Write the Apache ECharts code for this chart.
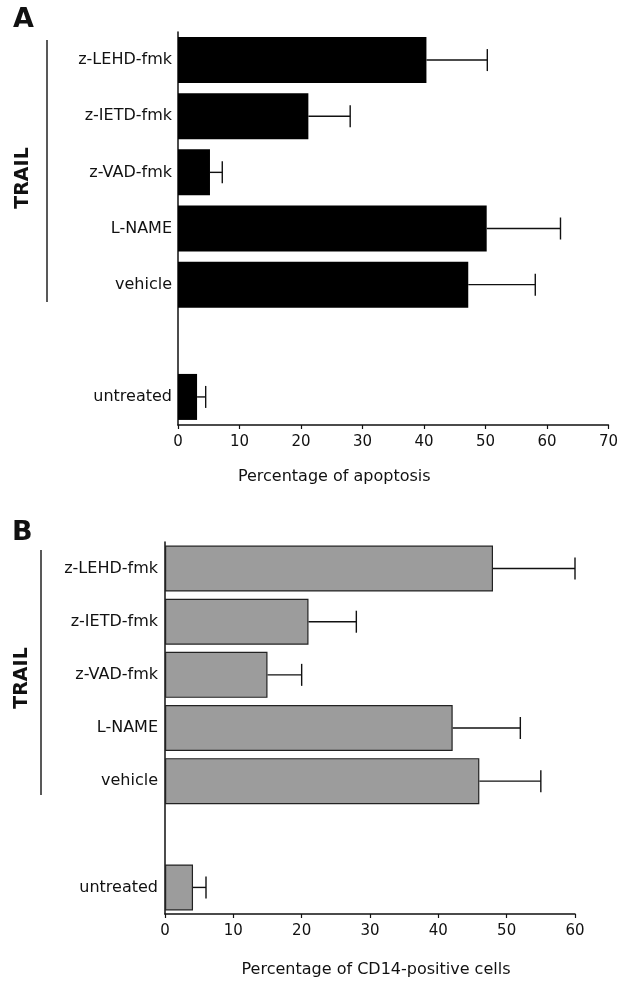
<!DOCTYPE html>
<html>
<head>
<meta charset="utf-8">
<script src="https://cdn.jsdelivr.net/npm/echarts@6/dist/echarts.min.js"></script>
<style>html,body{margin:0;padding:0;background:#fff}#c{width:621px;height:982px}</style>
</head>
<body>
<div id="c"></div>
<script>
// Data
var categories = ['z-LEHD-fmk', 'z-IETD-fmk', 'z-VAD-fmk', 'L-NAME', 'vehicle', '', 'untreated'];
var apoptosisMean = [40.4, 21.2, 5.2, 50.2, 47.2, null, 3.1];
var apoptosisErrTop = [50.3, 28.0, 7.2, 62.2, 58.1, null, 4.5];
var cd14Mean = [48.0, 21.0, 15.0, 42.1, 46.0, null, 4.1];
var cd14ErrTop = [60.0, 28.0, 20.0, 52.0, 55.0, null, 6.0];
var ticksA = [0, 10, 20, 30, 40, 50, 60, 70];
var ticksB = [0, 10, 20, 30, 40, 50, 60];

var FONT = 'DejaVu Sans';

function errData(mean, top) {
  var out = [];
  for (var i = 0; i < mean.length; i++) {
    if (mean[i] == null) continue;
    out.push([mean[i], top[i], i]);
  }
  return out;
}

function errRender(params, api) {
  var a = api.coord([api.value(0), api.value(2)]);
  var b = api.coord([api.value(1), api.value(2)]);
  var cap = 11;
  var st = { stroke: '#111', lineWidth: 1.4 };
  return {
    type: 'group',
    children: [
      { type: 'line', shape: { x1: a[0], y1: a[1], x2: b[0], y2: b[1] }, style: st },
      { type: 'line', shape: { x1: b[0], y1: b[1] - cap, x2: b[0], y2: b[1] + cap }, style: st }
    ]
  };
}

function xAxisCfg(gi, maxV, name, gap, pad) {
  return {
    type: 'value', gridIndex: gi, min: 0, max: maxV, interval: 10,
    name: name, nameLocation: 'middle', nameGap: gap,
    nameTextStyle: { fontFamily: FONT, fontSize: 16, color: '#111', padding: pad },
    axisLine: { show: true, lineStyle: { color: '#111', width: 1.5 } },
    axisTick: { show: true, length: 4, lineStyle: { color: '#111', width: 1.2 } },
    axisLabel: { fontFamily: FONT, fontSize: 15, color: '#111', margin: 10 },
    splitLine: { show: false }
  };
}
function yAxisCfg(gi, margin) {
  return {
    type: 'category', gridIndex: gi, data: categories, inverse: true,
    axisLine: { show: true, lineStyle: { color: '#111', width: 1.5 } },
    axisTick: { show: false },
    axisLabel: { fontFamily: FONT, fontSize: 16, color: '#111', margin: margin }
  };
}

var chart = echarts.init(document.getElementById('c'), null, { renderer: 'canvas' });
chart.setOption({
  animation: false,
  backgroundColor: '#fff',
  grid: [
    { left: 178, right: 9, top: 32, bottom: 557 },
    { left: 165, right: 46, top: 542, bottom: 68 }
  ],
  xAxis: [
    xAxisCfg(0, ticksA[ticksA.length - 1], 'Percentage of apoptosis', 44, [0, 118, 0, 0]),
    xAxisCfg(1, ticksB[ticksB.length - 1], 'Percentage of CD14-positive cells', 48, [0, 0, 0, 12])
  ],
  yAxis: [yAxisCfg(0, 6), yAxisCfg(1, 7)],
  graphic: [
    { type: 'text', left: 13, top: 6, style: { text: 'A', font: 'bold 27px ' + FONT, fill: '#111' } },
    { type: 'text', left: 12, top: 519, style: { text: 'B', font: 'bold 27px ' + FONT, fill: '#111' } },
    { type: 'line', shape: { x1: 47, y1: 40, x2: 47, y2: 302 }, style: { stroke: '#222', lineWidth: 1.5 } },
    { type: 'line', shape: { x1: 41, y1: 550, x2: 41, y2: 795 }, style: { stroke: '#222', lineWidth: 1.5 } },
    { type: 'text', x: 23, y: 178, rotation: Math.PI / 2, style: { text: 'TRAIL', font: 'bold 19px ' + FONT, fill: '#111', align: 'center', verticalAlign: 'middle' } },
    { type: 'text', x: 22, y: 678, rotation: Math.PI / 2, style: { text: 'TRAIL', font: 'bold 19px ' + FONT, fill: '#111', align: 'center', verticalAlign: 'middle' } }
  ],
  series: [
    {
      type: 'bar', xAxisIndex: 0, yAxisIndex: 0, data: apoptosisMean, barWidth: 46,
      itemStyle: { color: '#000' }
    },
    {
      type: 'custom', xAxisIndex: 0, yAxisIndex: 0, data: errData(apoptosisMean, apoptosisErrTop),
      encode: { x: [0, 1], y: 2 }, renderItem: errRender, z: 3
    },
    {
      type: 'bar', xAxisIndex: 1, yAxisIndex: 1, data: cd14Mean, barWidth: 46,
      itemStyle: { color: '#9c9c9c', borderColor: '#222', borderWidth: 1.2 }
    },
    {
      type: 'custom', xAxisIndex: 1, yAxisIndex: 1, data: errData(cd14Mean, cd14ErrTop),
      encode: { x: [0, 1], y: 2 }, renderItem: errRender, z: 3
    }
  ]
});
</script>
</body>
</html>
